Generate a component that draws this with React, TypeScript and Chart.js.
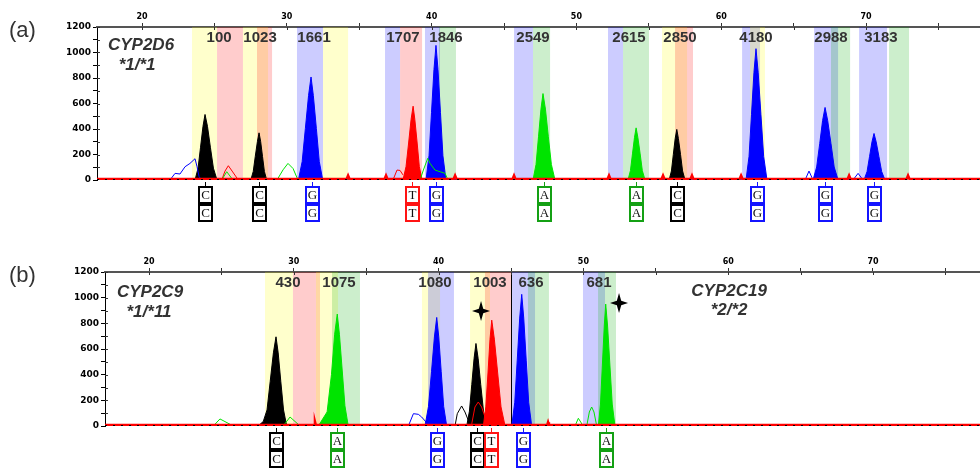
import React, { useEffect, useRef } from 'react';
import { Chart, registerables } from 'chart.js';
Chart.register(...registerables);

// ---------- axis ranges / ticks ----------
const A_X_MIN = 16.89, A_X_MAX = 77.87;
const B_X_MIN = 16.96, B_X_MAX = 77.39;
const Y_MAX = 1200;
const X_LABELED = [20, 30, 40, 50, 60, 70];
const Y_LABELED = [0, 200, 400, 600, 800, 1000, 1200];

// ---------- panel (a) traces: [x, height] pairs ----------
const A_BLACK = [23.66,0, 23.87,93, 24.04,257, 24.21,421, 24.35,514, 24.52,421, 24.72,257, 24.93,93, 25.18,0,
  27.51,0, 27.68,67, 27.82,185, 27.97,303, 28.08,370, 28.19,303, 28.32,185, 28.45,67, 28.61,0,
  56.40,0, 56.56,71, 56.69,199, 56.82,326, 56.93,397, 57.04,326, 57.19,199, 57.33,71, 57.50,0];
const A_RED = [38.02,0, 38.23,104, 38.41,290, 38.58,475, 38.72,579, 38.84,475, 39.00,290, 39.15,104, 39.34,0];
const A_BLUE = [30.80,0, 31.06,145, 31.28,404, 31.50,663, 31.67,808, 31.83,663, 32.04,404, 32.24,145, 32.48,0,
  39.61,0, 39.82,190, 39.99,528, 40.16,866, 40.30,1056, 40.44,866, 40.61,528, 40.78,190, 40.99,0,
  61.71,0, 61.92,185, 62.09,515, 62.26,845, 62.40,1030, 62.55,845, 62.74,515, 62.93,185, 63.16,0,
  66.34,0, 66.59,102, 66.80,285, 67.00,467, 67.17,569, 67.35,467, 67.58,285, 67.80,102, 68.07,0,
  69.86,0, 70.07,66, 70.24,183, 70.41,299, 70.55,365, 70.70,299, 70.89,183, 71.08,66, 71.31,0];
const A_GREEN = [47.00,0, 47.21,122, 47.38,339, 47.55,556, 47.69,678, 47.86,556, 48.06,339, 48.27,122, 48.52,0,
  53.56,0, 53.73,74, 53.87,205, 54.01,335, 54.12,409, 54.24,335, 54.40,205, 54.55,74, 54.74,0];
const A_BLUE_OUT = [21.93,0, 22.28,52, 22.62,47, 22.97,104, 23.31,130, 23.66,167, 23.80,104, 23.94,26, 24.12,0,
  65.79,0, 66.06,70, 66.34,0, 69.10,0, 69.45,52, 69.79,0];
const A_GREEN_OUT = [25.50,0, 25.85,65, 26.28,0, 29.32,0, 29.74,80, 30.08,130, 30.43,90, 30.77,0,
  39.20,0, 39.43,78, 39.73,170, 39.89,130, 40.23,78, 40.93,52, 41.13,0];
const A_RED_OUT = [25.50,0, 25.73,70, 25.96,112, 26.22,70, 26.65,0, 37.33,0, 37.61,78, 37.82,75, 38.02,40];
const A_BLACK_OUT: number[] = [];
const A_NOISE = [16.89,8, 34.13,8, 34.23,35, 34.33,8, 36.75,8, 36.85,35, 36.95,8, 41.52,8, 41.62,35, 41.72,8,
  45.59,8, 45.69,35, 45.79,8, 52.15,8, 52.25,35, 52.35,8, 55.88,8, 55.98,35, 56.08,8, 57.88,8, 57.98,35, 58.08,8,
  61.27,8, 61.37,35, 61.47,8, 68.73,8, 68.83,35, 68.93,8, 72.80,8, 72.90,35, 73.00,8, 77.87,8];

// panel (a) shaded bins
const A_BAND_FROM = [23.45, 25.18, 26.97, 27.94, 30.70, 32.50, 36.78, 37.82, 39.54, 40.51, 45.69, 47.00, 52.18, 53.22, 55.91, 56.81, 61.44, 61.99, 66.41, 67.58, 69.52, 71.59];
const A_BAND_TO = [25.18, 26.97, 28.70, 28.98, 32.50, 34.23, 37.82, 39.34, 40.58, 41.68, 47.00, 48.18, 53.22, 55.01, 57.64, 58.05, 62.68, 63.02, 68.07, 68.90, 71.45, 72.97];
const A_BAND_BASE = ['C','T','C','T','G','C','G','T','G','A','G','A','G','A','C','T','G','C','G','A','G','A'];

// panel (a) labels
const A_ALLELE = ['100','1023','1661','1707','1846','2549','2615','2850','4180','2988','3183'];
const A_ALLELE_X = [25.32, 28.15, 31.88, 38.02, 40.99, 47.00, 53.63, 57.15, 62.40, 67.58, 71.03];
const A_CALLS = ['C','C','G','T','G','A','A','C','G','G','G'];
const A_CALL_X = [24.35, 28.08, 31.74, 38.65, 40.30, 47.76, 54.12, 56.93, 62.47, 67.17, 70.55];
const A_GENE_TEXT = ['CYP2D6', '*1/*1'];
const A_GENE_X = [19.93, 19.66];
const A_GENE_Y = [1059, 902];

// ---------- panel (b) traces ----------
const B_BLACK = [27.53,0, 27.89,35, 28.15,125, 28.37,348, 28.59,570, 28.77,695, 28.92,570, 29.10,348, 29.29,125, 29.51,0,
  41.94,0, 42.13,116, 42.29,322, 42.45,527, 42.58,643, 42.73,527, 42.91,322, 43.10,116, 43.32,0];
const B_RED = [43.09,0, 43.26,149, 43.41,413, 43.55,677, 43.67,825, 43.85,677, 44.08,413, 44.31,149, 44.59,0];
const B_BLUE = [39.06,0, 39.30,152, 39.51,423, 39.71,694, 39.87,846, 40.01,694, 40.18,423, 40.35,152, 40.56,0,
  45.05,0, 45.26,185, 45.43,513, 45.60,841, 45.74,1026, 45.88,841, 46.05,513, 46.22,185, 46.43,0];
const B_GREEN = [31.69,0, 32.30,110, 32.60,400, 32.82,715, 33.00,872, 33.15,715, 33.34,436, 33.53,157, 33.76,0,
  51.03,0, 51.18,171, 51.31,475, 51.44,779, 51.54,950, 51.67,779, 51.83,475, 51.99,171, 52.18,0];
const B_BLUE_OUT = [37.91,0, 38.26,96, 38.60,91, 38.83,70, 39.13,31, 39.30,0];
const B_BLACK_OUT = [41.13,0, 41.29,96, 41.59,156, 41.82,109, 42.05,44, 42.20,0];
const B_RED_OUT = [42.20,0, 42.29,18, 42.51,148, 42.74,187, 42.97,148, 43.32,31, 43.45,0];
const B_GREEN_OUT = [24.44,0, 24.90,55, 25.82,0, 29.26,0, 29.74,70, 30.43,0, 49.42,0, 49.65,60, 49.99,0,
  50.23,0, 50.41,109, 50.57,148, 50.73,109, 50.91,5];
const B_NOISE = [16.96,8, 31.40,8, 31.46,35, 31.52,8, 47.50,8, 47.56,30, 47.62,8, 77.39,8];

const B_BAND_FROM = [28.01, 29.94, 31.53, 32.64, 38.85, 39.27, 42.17, 43.20, 45.07, 46.17, 49.97, 51.01];
const B_BAND_TO = [29.94, 31.81, 33.05, 34.57, 40.10, 41.06, 43.55, 45.00, 46.66, 47.62, 51.49, 52.25];
const B_BAND_BASE = ['C','T','C','A','C','G','C','T','G','A','G','A'];

const B_ALLELE = ['430','1075','1080','1003','636','681'];
const B_ALLELE_X = [29.60, 33.12, 39.75, 43.55, 46.38, 51.08];
const B_CALLS = ['C','A','G','C','T','G','A'];
const B_CALL_X = [28.80, 32.98, 39.89, 42.65, 43.62, 45.85, 51.56];
const B_GENE_TEXT = ['CYP2C9', '*1/*11', 'CYP2C19', '*2/*2'];
const B_GENE_X = [20.07, 20.0, 60.06, 60.06];
const B_GENE_Y = [1045, 888, 1052, 904];
const B_STAR_X = [42.93, 52.46];
const B_STAR_Y = [896, 959];
const B_DIVIDER_X = [45.0];

// ---------- styles ----------
const BAND_COLOR: Record<string, string> = {
  A: 'rgba(0,170,0,0.2)', C: 'rgba(255,255,0,0.2)', G: 'rgba(0,0,255,0.2)', T: 'rgba(255,0,0,0.2)',
};
const TRACE_COLOR: Record<string, string> = { A: '#00e400', C: '#000000', G: '#0000ff', T: '#ff0000' };
const BOX_COLOR: Record<string, string> = { A: '#14a014', C: '#000000', G: '#1414ff', T: '#ff1414' };
const ALLELE_Y = 1115;

const toPts = (a: number[]) => {
  const r: { x: number; y: number }[] = [];
  for (let i = 0; i < a.length; i += 2) r.push({ x: a[i], y: a[i + 1] });
  return r;
};

interface PanelDef {
  xmin: number; xmax: number; axisW: number; axisH: number; padBottom: number;
  fills: [string, number[]][]; outlines: [string, number[]][]; noise: number[];
  bandFrom: number[]; bandTo: number[]; bandBase: string[];
  allele: string[]; alleleX: number[]; calls: string[]; callX: number[];
  geneText: string[]; geneX: number[]; geneY: number[];
  starX: number[]; starY: number[]; dividerX: number[];
}

const PANEL_A: PanelDef = {
  xmin: A_X_MIN, xmax: A_X_MAX, axisW: 97, axisH: 27, padBottom: 60,
  fills: [['A', A_GREEN], ['G', A_BLUE], ['T', A_RED], ['C', A_BLACK]],
  outlines: [['A', A_GREEN_OUT], ['G', A_BLUE_OUT], ['T', A_RED_OUT], ['C', A_BLACK_OUT]],
  noise: A_NOISE, bandFrom: A_BAND_FROM, bandTo: A_BAND_TO, bandBase: A_BAND_BASE,
  allele: A_ALLELE, alleleX: A_ALLELE_X, calls: A_CALLS, callX: A_CALL_X,
  geneText: A_GENE_TEXT, geneX: A_GENE_X, geneY: A_GENE_Y, starX: [], starY: [], dividerX: [],
};
const PANEL_B: PanelDef = {
  xmin: B_X_MIN, xmax: B_X_MAX, axisW: 105, axisH: 32, padBottom: 42,
  fills: [['A', B_GREEN], ['G', B_BLUE], ['T', B_RED], ['C', B_BLACK]],
  outlines: [['A', B_GREEN_OUT], ['G', B_BLUE_OUT], ['T', B_RED_OUT], ['C', B_BLACK_OUT]],
  noise: B_NOISE, bandFrom: B_BAND_FROM, bandTo: B_BAND_TO, bandBase: B_BAND_BASE,
  allele: B_ALLELE, alleleX: B_ALLELE_X, calls: B_CALLS, callX: B_CALL_X,
  geneText: B_GENE_TEXT, geneX: B_GENE_X, geneY: B_GENE_Y, starX: B_STAR_X, starY: B_STAR_Y, dividerX: B_DIVIDER_X,
};

function annotPlugin(p: PanelDef) {
  return {
    id: 'annot',
    beforeDatasetsDraw(chart: any) {
      const { ctx, chartArea: ca, scales } = chart;
      const xs = scales.x;
      ctx.save();
      ctx.beginPath();
      ctx.rect(ca.left, ca.top, ca.right - ca.left, ca.bottom - ca.top);
      ctx.clip();
      p.bandFrom.forEach((f, i) => {
        const x0 = xs.getPixelForValue(f);
        const x1 = xs.getPixelForValue(p.bandTo[i]);
        ctx.fillStyle = BAND_COLOR[p.bandBase[i]];
        ctx.fillRect(x0, ca.top, x1 - x0, ca.bottom - ca.top);
      });
      p.dividerX.forEach((d) => {
        const x = Math.round(xs.getPixelForValue(d)) + 0.5;
        ctx.strokeStyle = '#000';
        ctx.lineWidth = 1;
        ctx.beginPath();
        ctx.moveTo(x, ca.top);
        ctx.lineTo(x, ca.bottom);
        ctx.stroke();
      });
      ctx.restore();
    },
    afterDatasetsDraw(chart: any) {
      const { ctx, chartArea: ca, scales } = chart;
      const xs = scales.x, ys = scales.y;
      ctx.save();
      // small ticks crossing into the plot (axis ticks cross the axis lines)
      ctx.strokeStyle = '#333';
      ctx.lineWidth = 1;
      ctx.beginPath();
      xs.ticks.forEach((t: any) => {
        const x = Math.round(xs.getPixelForValue(t.value)) + 0.5;
        ctx.moveTo(x, ca.top);
        ctx.lineTo(x, ca.top + 3);
      });
      ys.ticks.forEach((t: any) => {
        const y = Math.round(ys.getPixelForValue(t.value)) + 0.5;
        if (t.value === 0) return;
        ctx.moveTo(ca.left, y);
        ctx.lineTo(ca.left + 3, y);
      });
      ctx.stroke();
      ctx.fillStyle = '#333';
      ctx.textAlign = 'center';
      ctx.textBaseline = 'middle';
      ctx.font = 'bold 15px "Liberation Sans", Arial, sans-serif';
      p.allele.forEach((t, i) => ctx.fillText(t, xs.getPixelForValue(p.alleleX[i]), ys.getPixelForValue(ALLELE_Y)));
      ctx.font = 'italic bold 17px "Liberation Sans", Arial, sans-serif';
      p.geneText.forEach((t, i) => ctx.fillText(t, xs.getPixelForValue(p.geneX[i]), ys.getPixelForValue(p.geneY[i])));
      ctx.fillStyle = '#000';
      p.starX.forEach((sx, i) => {
        const cx = xs.getPixelForValue(sx), cy = ys.getPixelForValue(p.starY[i]);
        const R = 10, r = 2.2, W = 9;
        ctx.beginPath();
        ctx.moveTo(cx, cy - R);
        ctx.lineTo(cx + r, cy - r);
        ctx.lineTo(cx + W, cy);
        ctx.lineTo(cx + r, cy + r);
        ctx.lineTo(cx, cy + R);
        ctx.lineTo(cx - r, cy + r);
        ctx.lineTo(cx - W, cy);
        ctx.lineTo(cx - r, cy - r);
        ctx.closePath();
        ctx.fill();
      });
      ctx.restore();
    },
    afterDraw(chart: any) {
      const { ctx, chartArea: ca, scales } = chart;
      const xs = scales.x;
      const base = ca.bottom;
      ctx.save();
      ctx.textAlign = 'center';
      ctx.textBaseline = 'middle';
      ctx.font = '13px "Liberation Serif", "Times New Roman", serif';
      p.calls.forEach((c, i) => {
        const cx = Math.round(xs.getPixelForValue(p.callX[i]));
        const col = BOX_COLOR[c];
        ctx.strokeStyle = col;
        ctx.lineWidth = 1;
        ctx.beginPath();
        ctx.moveTo(cx + 0.5, base + 2);
        ctx.lineTo(cx + 0.5, base + 7);
        ctx.moveTo(cx + 0.5, base + 23);
        ctx.lineTo(cx + 0.5, base + 26);
        ctx.stroke();
        [base + 7, base + 25].forEach((top) => {
          ctx.fillStyle = '#fff';
          ctx.fillRect(cx - 6, top, 13, 16);
          ctx.lineWidth = 2;
          ctx.strokeStyle = col;
          ctx.strokeRect(cx - 6, top, 13, 16);
          ctx.fillStyle = '#111';
          ctx.fillText(c, cx + 0.5, top + 8.5);
        });
      });
      ctx.restore();
    },
  };
}

function makeConfig(p: PanelDef): any {
  const datasets: any[] = [];
  datasets.push({ data: toPts([p.xmin, 2, p.xmax, 2]), borderColor: '#000', borderWidth: 1.5, borderDash: [2, 6], fill: false, pointRadius: 0 });
  datasets.push({ data: toPts(p.noise), borderColor: '#ff0000', borderWidth: 2.5, fill: false, pointRadius: 0 });
  p.outlines.forEach(([b, arr]) => {
    if (arr.length) datasets.push({ data: toPts(arr), borderColor: TRACE_COLOR[b], borderWidth: 1, fill: false, pointRadius: 0 });
  });
  p.fills.forEach(([b, arr]) => {
    datasets.push({ data: toPts(arr), borderColor: TRACE_COLOR[b], backgroundColor: TRACE_COLOR[b], borderWidth: 1, fill: 'origin', pointRadius: 0 });
  });
  const tickFont = { family: '"DejaVu Sans", sans-serif', weight: 'bold' as const };
  return {
    type: 'line',
    data: { datasets },
    options: {
      animation: false,
      responsive: false,
      events: [],
      layout: { padding: { left: 0, right: 0, top: 0, bottom: p.padBottom } },
      elements: { line: { tension: 0 } },
      plugins: { legend: { display: false }, tooltip: { enabled: false } },
      scales: {
        x: {
          type: 'linear', position: 'top', min: p.xmin, max: p.xmax,
          afterFit: (s: any) => { s.height = p.axisH; },
          ticks: {
            stepSize: 5, includeBounds: false, autoSkip: false, maxRotation: 0, padding: 1,
            color: '#000', font: { ...tickFont, size: 8 },
            callback: (v: number) => (X_LABELED.includes(v) ? String(v) : ''),
          },
          grid: { drawOnChartArea: false, tickLength: 4, color: '#333' },
          border: { color: '#555', width: 2 },
        },
        y: {
          type: 'linear', min: 0, max: Y_MAX,
          afterFit: (s: any) => { s.width = p.axisW; },
          ticks: {
            stepSize: 100, autoSkip: false, padding: 2, color: '#000', font: { ...tickFont, size: 9 },
            callback: (v: number) => (Y_LABELED.includes(v) ? String(v) : ''),
          },
          grid: { drawOnChartArea: false, tickLength: 4, color: '#000' },
          border: { color: '#000', width: 1 },
        },
      },
    },
    plugins: [annotPlugin(p)],
  };
}

function Panel({ def, top, height }: { def: PanelDef; top: number; height: number }) {
  const ref = useRef<HTMLCanvasElement>(null);
  useEffect(() => {
    if (!ref.current) return;
    const chart = new Chart(ref.current, makeConfig(def));
    return () => chart.destroy();
  }, [def]);
  return (
    <canvas ref={ref} width={980} height={height}
      style={{ position: 'absolute', left: 0, top, width: 980, height }} />
  );
}

const labelStyle: React.CSSProperties = {
  position: 'absolute', left: 9, fontFamily: '"Liberation Sans", Arial, sans-serif',
  fontSize: 22, lineHeight: '22px', color: '#333',
};

export default function App() {
  return (
    <div style={{ position: 'absolute', left: 0, top: 0, width: 980, height: 468, background: '#fff', overflow: 'hidden' }}>
      <Panel def={PANEL_A} top={0} height={240} />
      <Panel def={PANEL_B} top={240} height={228} />
      <div style={{ ...labelStyle, top: 19 }}>(a)</div>
      <div style={{ ...labelStyle, top: 264 }}>(b)</div>
    </div>
  );
}
